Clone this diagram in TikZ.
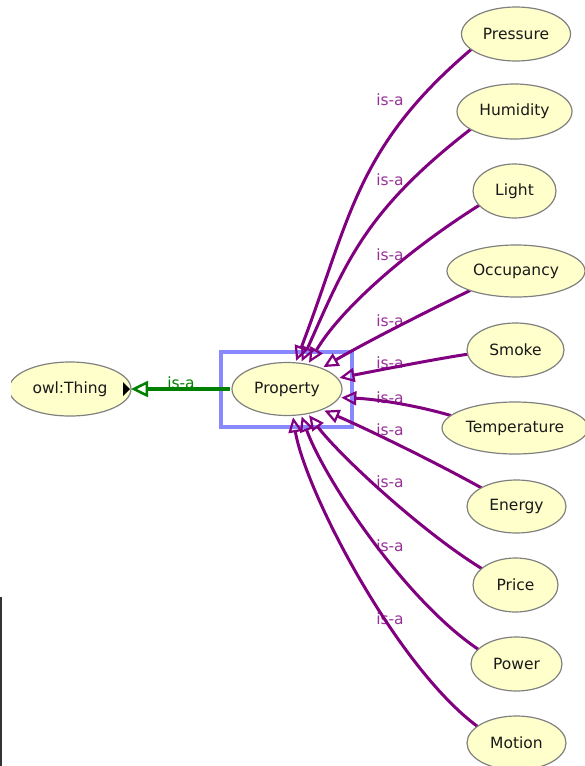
\documentclass[tikz,border=0pt]{standalone}
\usepackage{fontspec}
\setmainfont{DejaVu Sans}
\usetikzlibrary{shapes.geometric,arrows.meta,backgrounds}
\definecolor{ellfill}{RGB}{255,255,204}
\definecolor{ellborder}{RGB}{128,128,128}
\definecolor{isapurple}{RGB}{128,0,128}
\definecolor{isalabel}{RGB}{150,50,150}
\definecolor{isagreen}{RGB}{0,128,0}
\definecolor{selblue}{RGB}{136,136,255}
\begin{document}
\begin{tikzpicture}[x=1pt,y=1pt,
  cls/.style={ellipse, draw=ellborder, line width=1.2pt, fill=ellfill, inner sep=0pt, outer sep=0pt,
    font=\fontsize{15.5}{18}\selectfont, text=black!90},
  isa/.style={draw=isapurple, line width=3pt, line join=round,
    -{Triangle[open,length=15pt,width=14pt,line width=2.2pt]}},
  isalbl/.style={text=isalabel, inner sep=0pt, font=\fontsize{15.5}{18}\selectfont},
  greenisa/.style={draw=isagreen, line width=3.2pt,
    -{Triangle[open,length=17pt,width=16pt,line width=2.5pt]}},
]
\useasboundingbox (0,0) rectangle (585,-766);

% child classes
\node[cls, minimum width=109pt, minimum height=54pt] (pressure)    at (516,-34)    {Pressure};
\node[cls, minimum width=115pt, minimum height=55pt] (humidity)    at (514.5,-111.5) {Humidity};
\node[cls, minimum width=83pt,  minimum height=54pt] (light)       at (514.5,-191) {Light};
\node[cls, minimum width=138pt, minimum height=52pt] (occupancy)   at (516,-271)   {Occupancy};
\node[cls, minimum width=97pt,  minimum height=54pt] (smoke)       at (515.5,-350) {Smoke};
\node[cls, minimum width=146pt, minimum height=52pt] (temperature) at (515,-428)   {Temperature};
\node[cls, minimum width=99pt,  minimum height=53pt] (energy)      at (516.5,-506.5) {Energy};
\node[cls, minimum width=85pt,  minimum height=54pt] (price)       at (515.5,-585) {Price};
\node[cls, minimum width=91pt,  minimum height=54pt] (power)       at (516.5,-664) {Power};
\node[cls, minimum width=99pt,  minimum height=54pt] (motion)      at (516.5,-743) {Motion};

% central class
\node[cls, minimum width=110pt, minimum height=53pt, outer sep=2pt] (prop) at (287,-389) {Property};

% owl:Thing (clipped at the left)
\begin{scope}
  \clip (11,-340) rectangle (200,-440);
  \node[cls, minimum width=122pt, minimum height=54pt] (thing) at (70,-389) {owl:Thing};
\end{scope}
\fill[black] ([xshift=-1pt]thing.east) -- ++(-7,7) -- ++(0,-14) -- cycle;

% left border line
\draw[black!80, line width=1.5pt] (1,-597) -- (1,-766);

\begin{pgfonlayer}{background}
  % selection box
  \draw[selblue, line width=4pt] (221,-352) rectangle (352,-427);

  % labels
  \node[isalbl] (l1)  at (390,-100) {is-a};
  \node[isalbl] (l2)  at (390,-180) {is-a};
  \node[isalbl] (l3)  at (390,-255) {is-a};
  \node[isalbl] (l4)  at (390,-321) {is-a};
  \node[isalbl] (l5)  at (390,-363) {is-a};
  \node[isalbl] (l6)  at (390,-398) {is-a};
  \node[isalbl] (l7)  at (390,-430) {is-a};
  \node[isalbl] (l8)  at (390,-482) {is-a};
  \node[isalbl] (l9)  at (390,-546) {is-a};
  \node[isalbl] (l10) at (390,-619) {is-a};
  \node[isalbl, text=isagreen] (lg) at (181,-383) {is-a};

  % is-a edges
  \draw[isa] (pressure.199)    .. controls (355,-148) and (350,-220) .. (prop.72);
  \draw[isa] (humidity.202)    .. controls (365,-211) and (346,-262) .. (prop.62);
  \draw[isa] (light.202)       .. controls (405,-252) and (340,-310) .. (prop.50);
  \draw[isa] (occupancy.203)   .. controls (430,-310) and (370,-340) .. (prop.31);
  \draw[isa] (smoke.185)       .. controls (430,-360) and (380,-370) .. (prop.12);
  \draw[isa] (temperature.169) .. controls (415,-405) and (375,-399) .. (prop.-9);
  \draw[isa] (energy.152)      .. controls (435,-462) and (365,-428) .. (prop.-30);
  \draw[isa] (price.154)       .. controls (422,-532) and (339,-455) .. (prop.-50);
  \draw[isa] (power.159)       .. controls (405,-600) and (325,-480) .. (prop.-62);
  \draw[isa] (motion.157)      .. controls (395,-665) and (305,-490) .. (prop.-78);

  % green is-a to owl:Thing
  \draw[greenisa] (prop.west) -- (thing.east);
\end{pgfonlayer}
\end{tikzpicture}
\end{document}
